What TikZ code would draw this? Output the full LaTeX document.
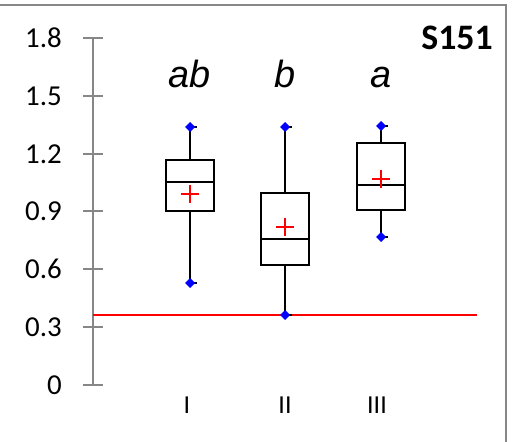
\documentclass[tikz,border=0pt]{standalone}
\usepackage{fontspec}
\setmainfont{Carlito}
\newfontfamily\arialit{Liberation Sans}
\newcommand\bxplot[8]{%
  % #1 name, #2 cx, #3 wtop, #4 q3, #5 med, #6 q1, #7 wbot, #8 mean
  \draw[boxln] (#2,#3) -- (#2,#4);
  \draw[boxln] (#2,#6) -- (#2,#7);
  \draw[boxln] (#2-24,#4) rectangle (#2+24,#6);
  \draw[boxln] (#2-24,#5) -- (#2+24,#5);
  \draw[meanln] (#2-9,#8) -- (#2+9,#8);
  \draw[meanln] (#2,#8-9) -- (#2,#8+9);
  \draw[boxln] (#2,#3) -- (#2+7,#3);
  \draw[boxln] (#2,#7) -- (#2+7,#7);
  \fill[blue] (#2,#3-5) -- (#2+5,#3) -- (#2,#3+5) -- (#2-5,#3) -- cycle;
  \fill[blue] (#2,#7-5) -- (#2+5,#7) -- (#2,#7+5) -- (#2-5,#7) -- cycle;
  \coordinate (#1) at (#2,#5);
}
\begin{document}
\begin{tikzpicture}[x=1bp,y=-1bp,
  axisln/.style={draw=black!47, line width=2bp},
  boxln/.style={draw=black, line width=2bp},
  meanln/.style={draw=red, line width=2bp},
  ticklab/.style={font=\fontsize{29}{29}\selectfont, inner sep=0pt, anchor=east},
  grplab/.style={font=\fontsize{38}{38}\selectfont\arialit\itshape, inner sep=0pt, anchor=base},
  catlab/.style={font=\fontsize{26}{26}\selectfont, inner sep=0pt, anchor=base}]
\useasboundingbox (0,0) rectangle (512,442);
% frame
\draw[axisln] (0,5) -- (506,5) -- (506,442);
% axis
\draw[axisln] (93,38) -- (93,385);
\foreach \v/\yy in {1.8/38,1.5/96,1.2/154,0.9/211,0.6/269,0.3/327,0/385}{
  \draw[axisln] (83,\yy) -- (103,\yy);
  \node[ticklab] (t\v) at (62,\yy) {\v};
}
% reference line
\draw[red, line width=2bp] (93,315) -- (477,315);
% boxes
\bxplot{b1}{190}{127}{160}{182}{211}{283}{194}
\bxplot{b2}{285}{127}{193}{239}{265}{315}{227}
\bxplot{b3}{381}{126}{143}{185}{210}{237}{179}
% labels
\node[grplab] (g1) at (190,88) {ab};
\node[grplab] (g2) at (285,88) {b};
\node[grplab] (g3) at (381,88) {a};
\node[font=\fontsize{36}{36}\selectfont\bfseries, inner sep=0pt, anchor=base east] (title) at (493,50) {S151};
\node[catlab] (c1) at (187,413) {I};
\node[catlab] (c2) at (285,413) {II};
\node[catlab] (c3) at (377,413) {III};
\end{tikzpicture}
\end{document}
